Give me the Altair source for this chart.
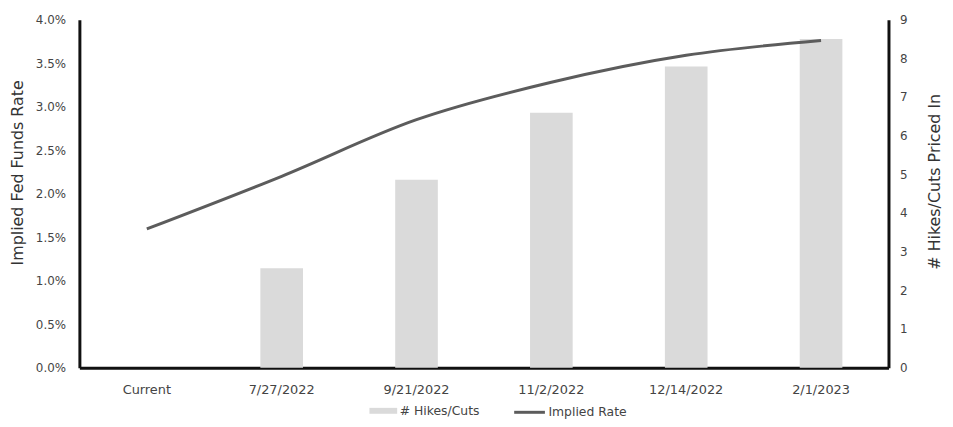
import altair as alt
import pandas as pd

categories = ["Current", "7/27/2022", "9/21/2022", "11/2/2022", "12/14/2022", "2/1/2023"]
implied_rate = [0.01595, 0.0220, 0.0285, 0.0328, 0.0359, 0.0376]
hikes_cuts = [None, 2.57, 4.86, 6.59, 7.79, 8.50]

df = pd.DataFrame({
    "date": categories,
    "rate": implied_rate,
    "hikes": hikes_cuts,
    "bar_series": ["# Hikes/Cuts"] * len(categories),
    "line_series": ["Implied Rate"] * len(categories),
})

FONT = "DejaVu Sans"
LABEL_COLOR = "#444444"
TITLE_COLOR = "#333333"

x = alt.X(
    "date:N",
    sort=categories,
    scale=alt.Scale(paddingInner=0, paddingOuter=0),
    axis=alt.Axis(
        title=None, labelAngle=0, ticks=False, labelPadding=16,
        domainColor="#111111", domainWidth=3, labelFontSize=13,
        labelColor=LABEL_COLOR, labelFont=FONT,
    ),
)

bars = alt.Chart(df).mark_bar(size=43).encode(
    x=x,
    y=alt.Y(
        "hikes:Q",
        scale=alt.Scale(domain=[0, 9], nice=False),
        axis=alt.Axis(
            orient="right", title="# Hikes/Cuts Priced In",
            values=list(range(0, 10)), labelOverlap=False, ticks=False,
            grid=False, domainColor="#111111", domainWidth=3, labelPadding=11,
            labelFontSize=12, labelColor=LABEL_COLOR, labelFont=FONT,
            titleFont=FONT, titleFontSize=16, titleFontWeight="normal",
            titleColor=TITLE_COLOR, titleAngle=270, titleX=46, titleY=163,
            titleAlign="center", titleBaseline="middle",
        ),
    ),
    color=alt.Color(
        "bar_series:N",
        scale=alt.Scale(range=["#dadada"]),
        legend=alt.Legend(
            title=None, orient="none", legendX=297, legendY=385,
            symbolType="M-1.5,-0.32H1.5V0.32H-1.5Z", symbolSize=348,
            symbolStrokeWidth=0, labelFontSize=12.5, labelFont=FONT,
            labelColor=LABEL_COLOR, labelOffset=7,
        ),
    ),
)

line = alt.Chart(df).mark_line(strokeWidth=3, interpolate="monotone").encode(
    x=x,
    y=alt.Y(
        "rate:Q",
        scale=alt.Scale(domain=[0, 0.04], nice=False),
        axis=alt.Axis(
            orient="left", title="Implied Fed Funds Rate", format=".1%",
            values=[0, 0.005, 0.01, 0.015, 0.02, 0.025, 0.03, 0.035, 0.04],
            labelOverlap=False, ticks=False, grid=False,
            domainColor="#111111", domainWidth=3, labelPadding=14,
            labelFontSize=12, labelColor=LABEL_COLOR, labelFont=FONT,
            titleFont=FONT, titleFontSize=16, titleFontWeight="normal",
            titleColor=TITLE_COLOR, titleX=-62, titleY=154,
            titleAlign="center", titleBaseline="middle",
        ),
    ),
    stroke=alt.Stroke(
        "line_series:N",
        scale=alt.Scale(range=["#5c5c5c"]),
        legend=alt.Legend(
            title=None, orient="none", legendX=437, legendY=379,
            symbolType="stroke", symbolSize=961, symbolStrokeWidth=3,
            labelFontSize=12.5, labelFont=FONT, labelColor=LABEL_COLOR,
            labelOffset=2,
        ),
    ),
)

chart = alt.layer(bars, line).resolve_scale(
    y="independent", color="independent", stroke="independent"
).properties(
    width=816,
    height=351,
    background="white",
    autosize=alt.AutoSizeParams(type="none"),
    padding={"left": 72, "top": 10, "right": 57, "bottom": 50},
).configure_view(
    stroke=None
)

chart.save("out.html", embed_options={"renderer": "svg", "actions": False})
